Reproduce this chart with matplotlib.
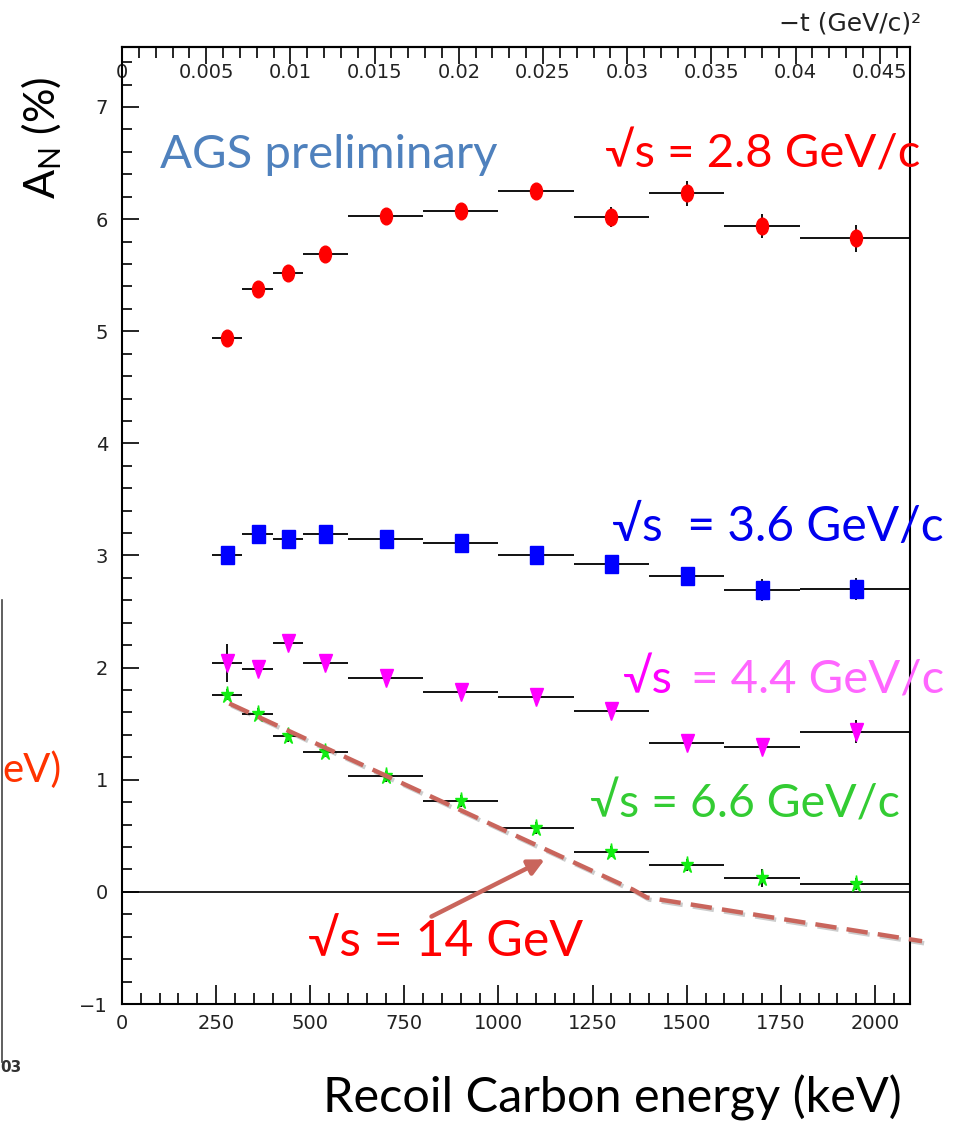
import numpy as np
import matplotlib
matplotlib.use('Agg')
import matplotlib.pyplot as plt
from matplotlib.markers import MarkerStyle
from matplotlib.transforms import Affine2D
from matplotlib.lines import Line2D
from matplotlib.ticker import MultipleLocator, FixedLocator, FuncFormatter
import matplotlib.patheffects as pe

# recoil carbon energy (keV), bin centres and edges
energy = [280, 360, 440, 540, 700, 900, 1100, 1300, 1500, 1700, 1950]
bin_lo = [240, 320, 400, 480, 600, 800, 1000, 1200, 1400, 1600, 1800]
bin_hi = [320, 400, 480, 600, 800, 1000, 1200, 1400, 1600, 1800, 2100]

# A_N (%) for each beam energy
an_28 = [4.94, 5.38, 5.52, 5.69, 6.03, 6.07, 6.25, 6.02, 6.23, 5.94, 5.83]
err_28 = [0.04, 0.05, 0.07, 0.05, 0.05, 0.05, 0.06, 0.09, 0.11, 0.11, 0.12]
an_36 = [3.00, 3.19, 3.15, 3.19, 3.15, 3.11, 3.00, 2.92, 2.82, 2.69, 2.70]
err_36 = [0.05, 0.05, 0.05, 0.05, 0.05, 0.05, 0.05, 0.05, 0.06, 0.10, 0.10]
an_44 = [2.04, 1.99, 2.22, 2.04, 1.91, 1.78, 1.74, 1.61, 1.33, 1.29, 1.43]
err_44 = [0.17, 0.05, 0.05, 0.05, 0.05, 0.05, 0.05, 0.05, 0.05, 0.05, 0.10]
an_66 = [1.76, 1.59, 1.39, 1.25, 1.03, 0.81, 0.57, 0.36, 0.24, 0.12, 0.07]
err_66 = [0.05, 0.05, 0.05, 0.05, 0.05, 0.05, 0.05, 0.05, 0.05, 0.08, 0.05]

# sqrt(s) = 14 GeV expectation (dashed)
theory_x = [285, 1357, 1394, 2125]
theory_y = [1.68, 0.02, -0.05, -0.44]

t_ticks = [0, 0.005, 0.01, 0.015, 0.02, 0.025, 0.03, 0.035, 0.04, 0.045]
M_C = 11.178  # GeV, carbon mass


def to_t(T):
    return 2 * M_C * np.asarray(T) * 1e-6


def to_T(t):
    return np.asarray(t) / (2 * M_C * 1e-6)


fig = plt.figure(figsize=(9.65, 11.21), dpi=100)
ax = fig.add_axes([122 / 965, 117 / 1121, 788 / 965, 957 / 1121])

xerr = [np.array(energy) - np.array(bin_lo), np.array(bin_hi) - np.array(energy)]


def squash(m):
    return MarkerStyle(m, transform=Affine2D().scale(0.72, 1.0))


series = [
    (an_28, err_28, 'o', '#ff0000', 12),
    (an_36, err_36, 's', '#0000ff', 13),
    (an_44, err_44, 'v', '#ff00ff', 13),
    (an_66, err_66, '*', '#11ee11', 13),
]
for vals, errs, m, col, ms in series:
    ax.errorbar(energy, vals, xerr=xerr, yerr=errs, fmt='none',
                ecolor='#111111', elinewidth=1.4, capsize=0, zorder=2)
    ax.plot(energy, vals, linestyle='none', marker=squash(m), ms=ms,
            color=col, mec=col, zorder=3)

ax.axhline(0, color='#222222', lw=1.4, zorder=1)

dash_col = '#c9655c'
ax.plot(theory_x, theory_y, color=dash_col, lw=3.2, linestyle=(0, (4.8, 2.3)),
        dash_capstyle='butt', clip_on=False, zorder=4,
        path_effects=[pe.SimpleLineShadow(offset=(1.5, -1.5), alpha=0.2),
                      pe.Normal()])
ax.annotate('', xy=(1123, 0.29), xytext=(822, -0.22),
            arrowprops=dict(arrowstyle='-|>', color=dash_col, lw=3.2,
                            mutation_scale=24, shrinkA=0, shrinkB=0),
            zorder=4)

ax.set_xlim(0, 2093)
ax.set_ylim(-1, 7.535)

ax.xaxis.set_major_locator(MultipleLocator(250))
ax.xaxis.set_minor_locator(MultipleLocator(50))
ax.yaxis.set_major_locator(MultipleLocator(1))
ax.yaxis.set_minor_locator(MultipleLocator(0.2))
ax.tick_params(which='both', direction='in', top=False, right=False,
               labelsize=14, labelcolor='#222222', width=1.2)
ax.tick_params(axis='x', which='major', length=14, pad=7)
ax.tick_params(axis='x', which='minor', length=8)
ax.tick_params(axis='y', which='major', length=12, pad=10)
ax.tick_params(axis='y', which='minor', length=7)
for sp in ax.spines.values():
    sp.set_linewidth(1.5)

sec = ax.secondary_xaxis('top', functions=(to_t, to_T))
sec.xaxis.set_major_locator(FixedLocator(t_ticks))
sec.xaxis.set_minor_locator(MultipleLocator(0.001))
sec.xaxis.set_major_formatter(FuncFormatter(lambda v, p: '%g' % round(v, 4)))
sec.tick_params(which='both', direction='in', labelsize=14,
                labelcolor='#222222', width=1.2)
sec.tick_params(which='major', length=12, pad=-25)
sec.tick_params(which='minor', length=8)
sec.spines['top'].set_linewidth(1.5)

fam = ['Lato', 'DejaVu Sans']
ax.text(101, 6.57, 'AGS preliminary', color='#4f81bd', fontsize=34,
        family=fam, ha='left', va='center')
ax.text(1283, 6.58, '√s = 2.8 GeV/c', color='#ff0000', fontsize=34,
        family=fam, ha='left', va='center', clip_on=False)
ax.text(1301, 3.25, '√s  = 3.6 GeV/c', color='#0000ee', fontsize=34.5,
        family=fam, ha='left', va='center', clip_on=False)
t44 = ax.text(1331, 1.89, '√s', color='#ff00ff', fontsize=34,
              family=fam, ha='left', va='center', clip_on=False)
ax.annotate(' = 4.4 GeV/c', xycoords=t44, xy=(1, 0.5), xytext=(6, 0),
            textcoords='offset pixels', va='center', ha='left',
            color='#ff66ff', fontsize=34, family=fam, annotation_clip=False)
ax.text(1243, 0.78, '√s = 6.6 GeV/c', color='#33cc33', fontsize=33.5,
        family=fam, ha='left', va='center', clip_on=False)
ax.text(494, -0.45, '√s = 14 GeV', color='#ff0000', fontsize=36,
        family=fam, ha='left', va='center', clip_on=False)

fig.text(42 / 965, 1 - 138 / 1121, r'A$_\mathregular{N}$ (%)', rotation=90,
         fontsize=31, family=fam, ha='center', va='center')
fig.text(612 / 965, 1 - 1098 / 1121, 'Recoil Carbon energy (keV)',
         fontsize=35, family=fam, ha='center', va='center')
fig.text(921 / 965, 1 - 24 / 1121, '−t (GeV/c)²', fontsize=18,
         color='#222222', ha='right', va='center')

# edge of the neighbouring panel on the slide
fig.add_artist(Line2D([2 / 965, 2 / 965], [1 - 600 / 1121, 1 - 1062 / 1121],
                      color='#444444', lw=1.2))
fig.text(62 / 965, 1 - 770 / 1121, 'eV)', color='#ff3300', fontsize=29,
         family=fam, ha='right', va='center')
fig.text(0, 1 - 1067 / 1121, '03', color='#333333', fontsize=11,
         weight='bold', ha='left', va='center')

fig.savefig('out.png', dpi=100)
